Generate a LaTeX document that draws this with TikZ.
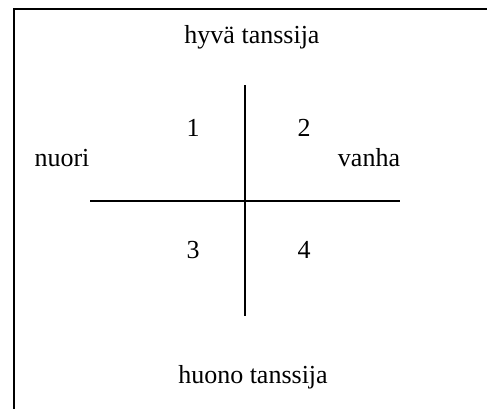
\documentclass[tikz,border=0pt]{standalone}
\usepackage{fontspec}
\setmainfont{Liberation Serif}

\begin{document}
\begin{tikzpicture}[x=0.5pt, y=-0.5pt, line width=1pt,
    label text/.style={anchor=base, inner sep=0pt, font=\fontsize{13}{15}\selectfont}]
                % Frame and bounding box:
                \useasboundingbox (0, 0) rectangle (487, 408);
                \draw (14, 420) -- (14, 9) -- (500, 9);
                % Axes:
                \coordinate (top) at (245, 85);
                \coordinate (bottom) at (245, 316);
                \coordinate (left) at (90, 201);
                \coordinate (right) at (400, 201);
                \draw (top) -- (bottom);
                \draw (left) -- (right);
                % Labels:
                \node[label text] (good) at (252, 43) {hyvä tanssija};
                \node[label text] (bad) at (253, 383) {huono tanssija};
                \node[label text] (young) at (62, 166) {nuori};
                \node[label text] (old) at (369, 166) {vanha};
                \node[label text] (q1) at (193, 136) {1};
                \node[label text] (q2) at (304, 136) {2};
                \node[label text] (q3) at (193, 258) {3};
                \node[label text] (q4) at (304, 258) {4};
            \end{tikzpicture}
\end{document}
